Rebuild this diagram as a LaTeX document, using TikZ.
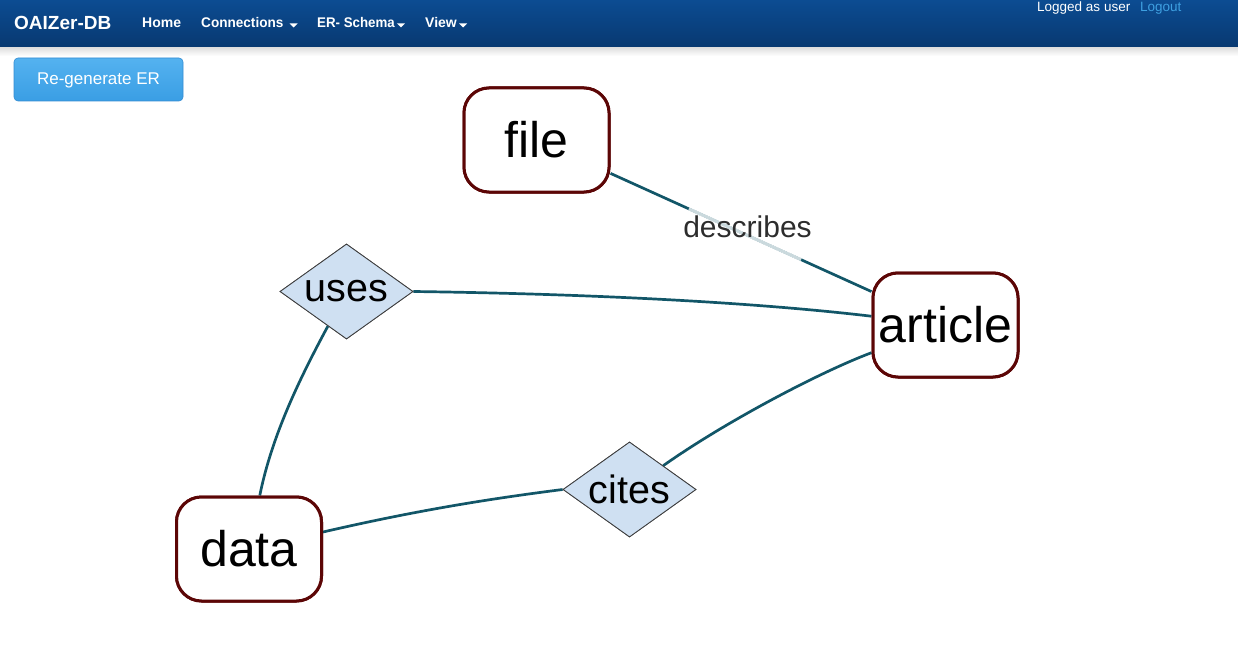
\documentclass[tikz,border=0pt]{standalone}
\usepackage{fontspec}
\setmainfont{Liberation Sans}
\usetikzlibrary{shapes.geometric}
\definecolor{navtop}{RGB}{12,76,146}
\definecolor{navbot}{RGB}{8,56,112}
\definecolor{btntop}{RGB}{84,178,240}
\definecolor{btnbot}{RGB}{58,158,228}
\definecolor{btnline}{RGB}{52,140,210}
\definecolor{linkblue}{RGB}{62,160,225}
\definecolor{edgecol}{RGB}{18,86,104}
\definecolor{entborder}{RGB}{92,6,6}
\definecolor{relfill}{RGB}{207,224,242}
\definecolor{relborder}{RGB}{60,60,60}
\definecolor{labeltext}{RGB}{45,45,45}
\tikzset{
  entity/.style={draw=entborder, line width=3pt, fill=white, rounded corners=25pt,
    minimum width=145pt, minimum height=104pt, inner sep=0pt,
    font=\fontsize{50}{54}\selectfont},
  relation/.style={draw=relborder, line width=0.8pt, fill=relfill, shape=diamond,
    shape aspect=1.4, minimum width=133pt, minimum height=95pt, inner sep=0pt,
    font=\fontsize{39.5}{42}\selectfont},
  edge/.style={draw=edgecol, line width=2.7pt},
  navtext/.style={text=white, font=\bfseries\fontsize{14}{16}\selectfont, inner sep=0pt},
  caret/.style={fill=white, draw=none}
}
\begin{document}
\begin{tikzpicture}[x=1pt,y=-1pt]
\useasboundingbox (0,0) rectangle (1238,671);
% navbar
\shade[top color=navtop, bottom color=navbot] (0,0) rectangle (1238,48);
\shade[top color=black!12, bottom color=white] (0,48) rectangle (1238,56);
\node[navtext, font=\bfseries\fontsize{19}{21}\selectfont, anchor=west] (brand) at (14,22.5) {OAIZer-DB};
\node[navtext, anchor=west] (home) at (142,22.5) {Home};
\node[navtext, anchor=west, xscale=0.97] (conn) at (201,22.5) {Connections};
\node[navtext, anchor=west, xscale=0.95] (er) at (317,22.5) {ER- Schema};
\node[navtext, anchor=west] (view) at (425,22.5) {View};
\fill[caret] ([xshift=6pt,yshift=-1pt]conn.east) -- ++(8,0) -- ++(-4,4) -- cycle;
\fill[caret] ([xshift=2pt,yshift=-1pt]er.east) -- ++(8,0) -- ++(-4,4) -- cycle;
\fill[caret] ([xshift=2pt,yshift=-1pt]view.east) -- ++(8,0) -- ++(-4,4) -- cycle;
\node[text=white, font=\fontsize{13.5}{15}\selectfont, inner sep=0pt, anchor=west] (logged) at (1037,8.5) {Logged as user};
\node[text=linkblue, font=\fontsize{13.5}{15}\selectfont, inner sep=0pt, anchor=west] (logout) at (1140,8.5) {Logout};
% button
\shade[top color=btntop, bottom color=btnbot, rounded corners=4pt, draw=btnline, line width=0.6pt] (14,58) rectangle (183,101);
\node[text=white, font=\fontsize{17}{19}\selectfont, inner sep=0pt] (btn) at (98.5,80) {Re-generate ER};
% nodes
\node[entity] (file) at (536.5,140) {file};
\node[entity] (article) at (945.5,325) {article};
\node[entity] (data) at (249,549) {data};
\node[relation] (uses) at (346.5,291.5) {uses};
\node[relation] (cites) at (629.5,489.5) {cites};
% edges
\path[edge] (file) -- (article)
  coordinate[pos=0.30] (fa1) coordinate[pos=0.73] (fa2);
\draw[white, opacity=0.78, line width=3pt] (fa1) -- (fa2);
\node[text=labeltext, font=\fontsize{30}{32}\selectfont, inner sep=0pt] (desc) at (747.5,226.5) {describes};
\path[edge] (uses.east) .. controls (600,294) and (760,303) .. (article);
\path[edge] (uses) .. controls (300,378) and (272,435) .. (data);
\path[edge] (data) .. controls (410,512) and (480,500) .. (cites.west);
\path[edge] (cites) .. controls (725,422) and (820,372) .. (article);
% redraw nodes on top of the connectors
\node[entity] at (file) {file};
\node[entity] at (article) {article};
\node[entity] at (data) {data};
\node[relation] at (uses) {uses};
\node[relation] at (cites) {cites};
\end{tikzpicture}
\end{document}
